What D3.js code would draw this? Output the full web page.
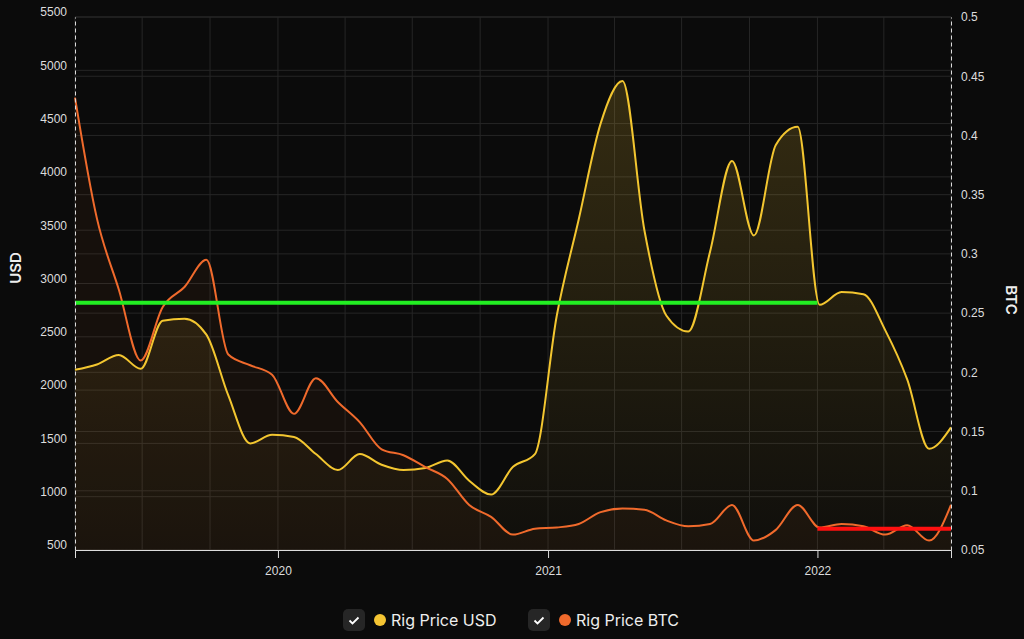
<!DOCTYPE html>
<html><head><meta charset="utf-8">
<script src="https://cdn.jsdelivr.net/npm/d3@7"></script>
<style>body{margin:0;background:#0b0b0b;}svg{display:block;font-family:Inter,"Noto Sans",sans-serif;}</style>
</head><body><svg id="c" width="1024" height="639"></svg>
<script>
const startDate = new Date(2019,3,1), endDate = new Date(2022,6,1);
const usd = [2190,2240,2330,2200,2650,2670,2520,1950,1500,1580,1560,1400,1250,1400,1300,1250,1270,1340,1150,1020,1280,1400,2700,3600,4500,4900,3500,2700,2550,3300,4150,3450,4300,4470,2800,2920,2900,2560,2100,1450,1650];
const btc = [0.432,0.33,0.27,0.21,0.255,0.272,0.295,0.215,0.206,0.198,0.165,0.195,0.175,0.158,0.135,0.13,0.12,0.11,0.088,0.078,0.063,0.068,0.069,0.072,0.082,0.085,0.084,0.075,0.07,0.072,0.088,0.058,0.067,0.088,0.069,0.072,0.07,0.063,0.071,0.058,0.088];
const dates = usd.map((d,i)=>new Date(+startDate + i*(endDate-startDate)/(usd.length-1)));
const usdTicks = d3.range(500, 5501, 500);
const btcTicks = [0.05,0.1,0.15,0.2,0.25,0.3,0.35,0.4,0.45,0.5];
const usdRef = {value:2820, from:startDate, to:new Date(2022,0,1)};
const btcRef = {value:0.068, from:new Date(2022,0,1), to:endDate};

const svg = d3.select('#c');
const L=75,R=951,T=17,B=550;
const x = d3.scaleTime().domain([startDate, endDate]).range([L,R]);
const yL = d3.scaleLinear().domain([500,5500]).range([B,T]);
const yR = d3.scaleLinear().domain([0.05,0.5]).range([B,T]);

const defs = svg.append('defs');
const g1 = defs.append('linearGradient').attr('id','gu').attr('x1',0).attr('x2',0).attr('y1',0).attr('y2',1);
g1.append('stop').attr('offset','0%').attr('stop-color','#f5c533').attr('stop-opacity',0.18);
g1.append('stop').attr('offset','100%').attr('stop-color','#f5c533').attr('stop-opacity',0.02);

const grid = svg.append('g').attr('stroke','#262626').attr('stroke-width',1);
d3.range(0,14).forEach(i=>{const d=new Date(2019,3+3*i,1);const xx=x(d);grid.append('line').attr('x1',xx).attr('x2',xx).attr('y1',T).attr('y2',B);});
usdTicks.forEach(v=>grid.append('line').attr('x1',L).attr('x2',R).attr('y1',yL(v)).attr('y2',yL(v)));
btcTicks.forEach(v=>grid.append('line').attr('x1',L).attr('x2',R).attr('y1',yR(v)).attr('y2',yR(v)));

const curve = d3.curveMonotoneX;
svg.append('path').datum(usd).attr('fill','url(#gu)')
  .attr('d', d3.area().x((d,i)=>x(dates[i])).y0(B).y1(d=>yL(d)).curve(curve));
svg.append('path').datum(btc).attr('fill','rgba(240,110,40,0.05)')
  .attr('d', d3.area().x((d,i)=>x(dates[i])).y0(B).y1(d=>yR(d)).curve(curve));
svg.append('path').datum(usd).attr('fill','none').attr('stroke','#f3c630').attr('stroke-width',2)
  .attr('d', d3.line().x((d,i)=>x(dates[i])).y(d=>yL(d)).curve(curve));
svg.append('path').datum(btc).attr('fill','none').attr('stroke','#f06a2c').attr('stroke-width',2)
  .attr('d', d3.line().x((d,i)=>x(dates[i])).y(d=>yR(d)).curve(curve));

svg.append('line').attr('x1',x(usdRef.from)).attr('x2',x(usdRef.to)).attr('y1',yL(usdRef.value)).attr('y2',yL(usdRef.value)).attr('stroke','#22ee22').attr('stroke-width',4);
svg.append('line').attr('x1',x(btcRef.from)).attr('x2',x(btcRef.to)).attr('y1',yR(btcRef.value)).attr('y2',yR(btcRef.value)).attr('stroke','#ff1010').attr('stroke-width',4);

const ax = svg.append('g').attr('transform',`translate(0,${B})`).call(d3.axisBottom(x).ticks(d3.timeYear.every(1)).tickFormat(d3.timeFormat('%Y')).tickSizeOuter(0).tickSize(8));
ax.select('.domain').attr('stroke','#ddd');
ax.selectAll('line').attr('stroke','#ddd');
ax.selectAll('text').attr('fill','#ddd').attr('font-size',12).attr('dy','1.2em');
const al = svg.append('g').attr('transform',`translate(${L},0)`).call(d3.axisLeft(yL).tickValues(usdTicks).tickFormat(d3.format('d')).tickSize(0).tickPadding(8));
al.select('.domain').attr('stroke','#ddd').attr('stroke-dasharray','4,3');
al.selectAll('text').attr('fill','#ddd').attr('font-size',12).attr('dy','-0.1em');
const ar = svg.append('g').attr('transform',`translate(${R},0)`).call(d3.axisRight(yR).tickValues(btcTicks).tickFormat(d=>String(+d.toFixed(2))).tickSize(0).tickPadding(10));
ar.select('.domain').attr('stroke','#ddd').attr('stroke-dasharray','4,3');
ar.selectAll('text').attr('fill','#ddd').attr('font-size',12);

svg.append('text').attr('transform','translate(21,268) rotate(-90)').attr('text-anchor','middle').attr('fill','#eee').attr('font-size',15).attr('font-weight',600).text('USD');
svg.append('text').attr('transform','translate(1006,300) rotate(90)').attr('text-anchor','middle').attr('fill','#eee').attr('font-size',15).attr('font-weight',600).text('BTC');

const leg = [{n:'Rig Price USD',c:'#f5c533',x:343},{n:'Rig Price BTC',c:'#f06a2c',x:528}];
leg.forEach(l=>{
  const g = svg.append('g').attr('transform',`translate(${l.x},609)`);
  g.append('rect').attr('width',22).attr('height',22).attr('rx',5).attr('fill','#262626');
  g.append('path').attr('d','M6.5,11.5 L9.5,14.5 L15.5,8.5').attr('stroke','#fff').attr('stroke-width',1.8).attr('fill','none');
  g.append('circle').attr('cx',37).attr('cy',11).attr('r',6).attr('fill',l.c);
  g.append('text').attr('x',48).attr('y',17).attr('fill','#eee').attr('font-size',16).text(l.n);
});
</script></body></html>
